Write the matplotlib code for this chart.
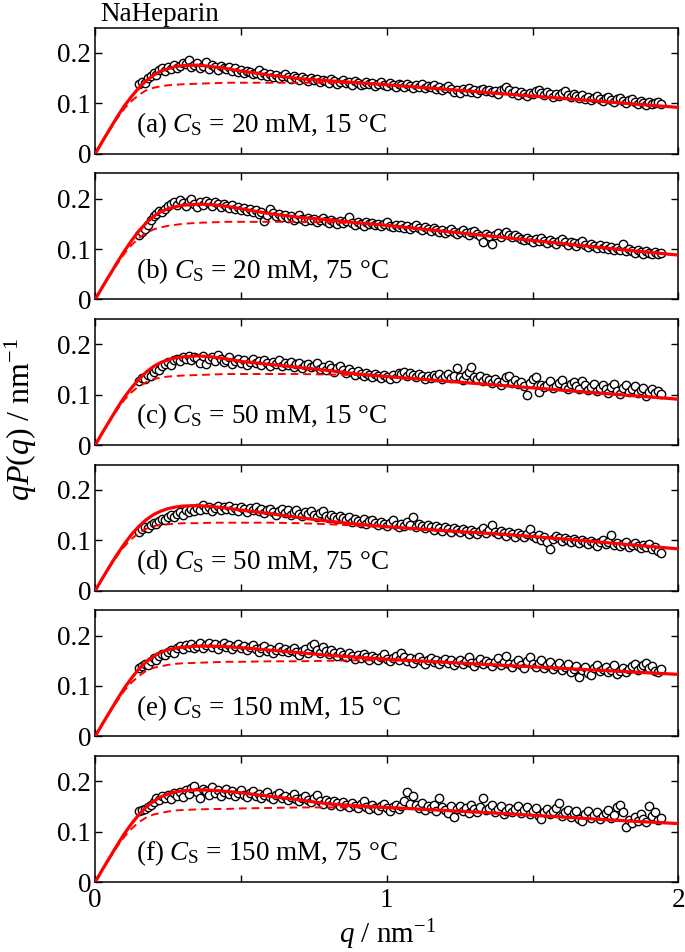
import numpy as np
import matplotlib
matplotlib.use('Agg')
import matplotlib.pyplot as plt

# Fonte tipo Times
plt.rcParams['font.family'] = 'Liberation Serif'
plt.rcParams['mathtext.fontset'] = 'custom'
plt.rcParams['mathtext.rm'] = 'Liberation Serif'
plt.rcParams['mathtext.it'] = 'Liberation Serif:italic'

# grade de q dos dados medidos (nm^-1)
q_data = np.round(np.arange(0.15, 1.945, 0.01), 2)

data_a = [0.138, 0.143, 0.140, 0.150, 0.155, 0.160, 0.157, 0.166, 0.170, 0.165,
          0.172, 0.168, 0.176, 0.170, 0.174, 0.181, 0.178, 0.186, 0.173, 0.177,
          0.180, 0.171, 0.175, 0.183, 0.169, 0.176, 0.172, 0.167, 0.174, 0.170,
          0.168, 0.173, 0.165, 0.170, 0.163, 0.167, 0.160, 0.165, 0.162, 0.158,
          0.161, 0.166, 0.157, 0.160, 0.155, 0.158, 0.153, 0.156, 0.150, 0.154,
          0.158, 0.152, 0.149, 0.155, 0.151, 0.147, 0.153, 0.148, 0.144, 0.150,
          0.146, 0.149, 0.143, 0.147, 0.145, 0.141, 0.148, 0.144, 0.139, 0.143,
          0.146, 0.140, 0.142, 0.137, 0.144, 0.141, 0.136, 0.139, 0.143, 0.138,
          0.140, 0.135, 0.139, 0.142, 0.136, 0.134, 0.140, 0.137, 0.133, 0.138,
          0.136, 0.132, 0.138, 0.134, 0.130, 0.137, 0.133, 0.139, 0.131, 0.135,
          0.132, 0.136, 0.129, 0.133, 0.127, 0.131, 0.135, 0.128, 0.122, 0.126,
          0.121, 0.129, 0.125, 0.131, 0.123, 0.127, 0.120, 0.126, 0.129, 0.124,
          0.127, 0.122, 0.125, 0.119, 0.126, 0.129, 0.133, 0.127, 0.120, 0.124,
          0.117, 0.122, 0.119, 0.115, 0.121, 0.118, 0.124, 0.127, 0.120, 0.116,
          0.122, 0.118, 0.113, 0.119, 0.115, 0.121, 0.124, 0.117, 0.112, 0.118,
          0.114, 0.110, 0.116, 0.108, 0.113, 0.106, 0.111, 0.115, 0.109, 0.104,
          0.110, 0.113, 0.106, 0.102, 0.108, 0.111, 0.105, 0.100, 0.106, 0.109,
          0.103, 0.099, 0.105, 0.101, 0.097, 0.102, 0.098, 0.100, 0.103, 0.099]
data_b = [0.128, 0.133, 0.140, 0.147, 0.158, 0.166, 0.170, 0.176, 0.173, 0.180,
          0.185, 0.190, 0.194, 0.187, 0.198, 0.192, 0.186, 0.195, 0.199, 0.190,
          0.184, 0.194, 0.188, 0.196, 0.191, 0.185, 0.193, 0.189, 0.183, 0.190,
          0.186, 0.181, 0.188, 0.179, 0.184, 0.177, 0.182, 0.175, 0.180, 0.173,
          0.177, 0.170, 0.174, 0.155, 0.168, 0.180, 0.172, 0.166, 0.170, 0.163,
          0.167, 0.161, 0.165, 0.158, 0.162, 0.167, 0.159, 0.156, 0.162, 0.157,
          0.160, 0.154, 0.158, 0.162, 0.155, 0.151, 0.157, 0.153, 0.149, 0.155,
          0.151, 0.156, 0.163, 0.152, 0.148, 0.154, 0.150, 0.146, 0.153, 0.149,
          0.152, 0.147, 0.150, 0.145, 0.149, 0.153, 0.146, 0.143, 0.148, 0.144,
          0.147, 0.141, 0.145, 0.139, 0.144, 0.148, 0.142, 0.138, 0.143, 0.140,
          0.136, 0.141, 0.138, 0.133, 0.137, 0.131, 0.135, 0.139, 0.134, 0.130,
          0.134, 0.138, 0.132, 0.128, 0.133, 0.136, 0.129, 0.125, 0.113, 0.130,
          0.126, 0.110, 0.128, 0.132, 0.124, 0.129, 0.133, 0.127, 0.123, 0.128,
          0.124, 0.120, 0.117, 0.122, 0.118, 0.113, 0.119, 0.115, 0.121, 0.116,
          0.112, 0.118, 0.114, 0.110, 0.116, 0.119, 0.113, 0.109, 0.114, 0.111,
          0.107, 0.112, 0.115, 0.109, 0.104, 0.110, 0.106, 0.102, 0.108, 0.103,
          0.106, 0.100, 0.104, 0.098, 0.103, 0.099, 0.110, 0.096, 0.101, 0.097,
          0.093, 0.098, 0.095, 0.091, 0.096, 0.092, 0.090, 0.094, 0.091, 0.093]
data_c = [0.128, 0.134, 0.131, 0.140, 0.137, 0.146, 0.150, 0.148, 0.157, 0.160,
          0.164, 0.158, 0.168, 0.171, 0.166, 0.174, 0.170, 0.177, 0.168, 0.175,
          0.172, 0.163, 0.176, 0.160, 0.170, 0.174, 0.167, 0.178, 0.171, 0.165,
          0.169, 0.174, 0.160, 0.167, 0.171, 0.163, 0.168, 0.158, 0.165, 0.170,
          0.162, 0.166, 0.159, 0.169, 0.163, 0.157, 0.165, 0.160, 0.168, 0.156,
          0.162, 0.158, 0.165, 0.155, 0.160, 0.163, 0.152, 0.158, 0.161, 0.154,
          0.157, 0.162, 0.151, 0.155, 0.148, 0.158, 0.153, 0.146, 0.152, 0.156,
          0.148, 0.143, 0.150, 0.145, 0.139, 0.147, 0.141, 0.137, 0.144, 0.140,
          0.136, 0.142, 0.138, 0.133, 0.140, 0.135, 0.131, 0.139, 0.134, 0.143,
          0.141, 0.146, 0.137, 0.143, 0.139, 0.135, 0.141, 0.137, 0.132, 0.138,
          0.134, 0.140, 0.136, 0.142, 0.131, 0.137, 0.141, 0.133, 0.138, 0.153,
          0.135, 0.130, 0.139, 0.146, 0.154, 0.136, 0.131, 0.137, 0.127, 0.133,
          0.129, 0.123, 0.131, 0.126, 0.120, 0.128, 0.135, 0.138, 0.124, 0.129,
          0.121, 0.126, 0.117, 0.100, 0.124, 0.131, 0.135, 0.105, 0.119, 0.115,
          0.120, 0.127, 0.113, 0.118, 0.123, 0.130, 0.116, 0.111, 0.121, 0.125,
          0.117, 0.112, 0.128, 0.119, 0.109, 0.115, 0.122, 0.107, 0.113, 0.120,
          0.111, 0.104, 0.116, 0.122, 0.108, 0.101, 0.114, 0.119, 0.106, 0.111,
          0.117, 0.103, 0.109, 0.114, 0.098, 0.106, 0.111, 0.104, 0.108, 0.102]
data_d = [0.117, 0.122, 0.126, 0.124, 0.131, 0.135, 0.133, 0.139, 0.143, 0.141,
          0.147, 0.150, 0.146, 0.153, 0.157, 0.151, 0.160, 0.156, 0.163, 0.158,
          0.165, 0.160, 0.170, 0.162, 0.167, 0.159, 0.165, 0.168, 0.161, 0.166,
          0.163, 0.169, 0.160, 0.165, 0.158, 0.167, 0.162, 0.156, 0.164, 0.160,
          0.166, 0.158, 0.162, 0.154, 0.160, 0.163, 0.157, 0.151, 0.159, 0.162,
          0.155, 0.160, 0.150, 0.157, 0.161, 0.153, 0.148, 0.156, 0.152, 0.158,
          0.150, 0.146, 0.154, 0.159, 0.149, 0.144, 0.151, 0.147, 0.142, 0.149,
          0.145, 0.140, 0.147, 0.137, 0.143, 0.139, 0.135, 0.142, 0.133, 0.138,
          0.141, 0.134, 0.130, 0.137, 0.132, 0.128, 0.135, 0.140, 0.131, 0.127,
          0.133, 0.129, 0.136, 0.131, 0.146, 0.127, 0.133, 0.129, 0.124, 0.130,
          0.126, 0.121, 0.128, 0.124, 0.119, 0.126, 0.122, 0.117, 0.124, 0.120,
          0.116, 0.123, 0.119, 0.113, 0.121, 0.117, 0.112, 0.118, 0.125, 0.115,
          0.120, 0.131, 0.116, 0.112, 0.118, 0.114, 0.109, 0.116, 0.112, 0.107,
          0.114, 0.110, 0.106, 0.112, 0.122, 0.108, 0.104, 0.111, 0.100, 0.106,
          0.096, 0.082, 0.102, 0.108, 0.104, 0.099, 0.105, 0.101, 0.096, 0.103,
          0.099, 0.094, 0.101, 0.097, 0.092, 0.098, 0.094, 0.089, 0.096, 0.101,
          0.092, 0.097, 0.110, 0.090, 0.095, 0.088, 0.093, 0.097, 0.086, 0.091,
          0.095, 0.088, 0.084, 0.090, 0.086, 0.092, 0.083, 0.087, 0.079, 0.075]
data_e = [0.136, 0.139, 0.143, 0.141, 0.150, 0.155, 0.152, 0.160, 0.164, 0.161,
          0.168, 0.172, 0.166, 0.175, 0.179, 0.173, 0.181, 0.177, 0.184, 0.175,
          0.180, 0.185, 0.176, 0.182, 0.186, 0.178, 0.183, 0.174, 0.181, 0.185,
          0.177, 0.182, 0.173, 0.179, 0.184, 0.175, 0.180, 0.171, 0.177, 0.182,
          0.174, 0.168, 0.176, 0.179, 0.170, 0.174, 0.166, 0.172, 0.177, 0.169,
          0.173, 0.167, 0.171, 0.176, 0.168, 0.162, 0.170, 0.174, 0.166, 0.179,
          0.183, 0.171, 0.165, 0.178, 0.169, 0.163, 0.172, 0.166, 0.160, 0.168,
          0.162, 0.157, 0.165, 0.159, 0.154, 0.161, 0.156, 0.163, 0.158, 0.152,
          0.160, 0.155, 0.151, 0.158, 0.163, 0.153, 0.149, 0.156, 0.160, 0.152,
          0.165, 0.157, 0.150, 0.155, 0.146, 0.153, 0.158, 0.149, 0.144, 0.151,
          0.156, 0.147, 0.152, 0.143, 0.149, 0.154, 0.145, 0.151, 0.141, 0.147,
          0.152, 0.144, 0.149, 0.157, 0.146, 0.140, 0.148, 0.153, 0.143, 0.150,
          0.145, 0.139, 0.147, 0.155, 0.142, 0.148, 0.160, 0.144, 0.137, 0.146,
          0.152, 0.141, 0.136, 0.149, 0.158, 0.143, 0.138, 0.145, 0.151, 0.135,
          0.142, 0.148, 0.133, 0.139, 0.145, 0.131, 0.137, 0.144, 0.128, 0.134,
          0.140, 0.118, 0.132, 0.138, 0.126, 0.121, 0.135, 0.141, 0.129, 0.133,
          0.138, 0.127, 0.132, 0.142, 0.124, 0.130, 0.136, 0.128, 0.134, 0.140,
          0.144, 0.131, 0.137, 0.142, 0.146, 0.135, 0.139, 0.130, 0.127, 0.133]
data_f = [0.140, 0.142, 0.145, 0.148, 0.152, 0.158, 0.166, 0.162, 0.170, 0.167,
          0.173, 0.165, 0.176, 0.171, 0.179, 0.168, 0.182, 0.175, 0.186, 0.190,
          0.178, 0.167, 0.185, 0.180, 0.172, 0.188, 0.176, 0.183, 0.170, 0.179,
          0.184, 0.175, 0.180, 0.171, 0.177, 0.182, 0.173, 0.168, 0.176, 0.180,
          0.171, 0.175, 0.166, 0.173, 0.178, 0.169, 0.164, 0.172, 0.176, 0.167,
          0.171, 0.163, 0.168, 0.174, 0.165, 0.160, 0.167, 0.171, 0.162, 0.158,
          0.166, 0.172, 0.160, 0.155, 0.163, 0.158, 0.153, 0.161, 0.156, 0.150,
          0.158, 0.153, 0.148, 0.156, 0.151, 0.147, 0.155, 0.160, 0.149, 0.144,
          0.152, 0.147, 0.143, 0.150, 0.155, 0.146, 0.141, 0.149, 0.153, 0.145,
          0.150, 0.160, 0.178, 0.155, 0.171, 0.152, 0.147, 0.156, 0.143, 0.150,
          0.146, 0.153, 0.141, 0.166, 0.148, 0.143, 0.137, 0.150, 0.129, 0.145,
          0.151, 0.140, 0.146, 0.137, 0.153, 0.144, 0.139, 0.148, 0.166, 0.142,
          0.147, 0.152, 0.138, 0.144, 0.150, 0.135, 0.141, 0.147, 0.139, 0.145,
          0.150, 0.137, 0.143, 0.148, 0.134, 0.140, 0.146, 0.131, 0.125, 0.139,
          0.144, 0.135, 0.141, 0.147, 0.156, 0.132, 0.138, 0.143, 0.129, 0.136,
          0.141, 0.126, 0.122, 0.135, 0.140, 0.128, 0.133, 0.138, 0.125, 0.131,
          0.136, 0.143, 0.127, 0.133, 0.149, 0.152, 0.138, 0.109, 0.124, 0.118,
          0.129, 0.121, 0.135, 0.126, 0.120, 0.151, 0.131, 0.138, 0.123, 0.128]

# curvas teoricas (linha cheia = ajuste, tracejada = sem interacao)
q_fit = [0, 0.025, 0.05, 0.075, 0.1, 0.125, 0.15, 0.175, 0.2, 0.225, 0.25, 0.275, 0.3,
         0.35, 0.4, 0.45, 0.5, 0.6, 0.7, 0.8, 0.9, 1.0, 1.2, 1.4, 1.6, 1.8, 2.0]
fit_a = [0, .025, .049, .073, .095, .114, .131, .145, .156, .164, .169, .173, .175,
         .176, .173, .169, .164, .156, .149, .145, .141, .137, .128, .119, .110, .101, .092]
dash_a = [0, .025, .048, .070, .090, .105, .117, .126, .131, .134, .136, .137, .138,
          .139, .140, .141, .141, .141, .141, .141, .140, .137, .128, .119, .110, .101, .092]
fit_b = [0, .025, .049, .073, .096, .117, .136, .152, .165, .174, .180, .184, .187,
         .189, .188, .185, .180, .170, .163, .158, .152, .147, .135, .123, .111, .099, .088]
dash_b = [0, .025, .048, .070, .091, .108, .122, .132, .139, .143, .146, .148, .150,
          .152, .153, .154, .154, .154, .154, .153, .151, .147, .135, .123, .111, .099, .088]
fit_c = [0, .025, .049, .073, .095, .114, .131, .145, .156, .164, .169, .173, .175,
         .177, .175, .171, .166, .160, .154, .148, .141, .136, .127, .118, .109, .100, .091]
dash_c = [0, .025, .048, .070, .090, .105, .117, .125, .131, .134, .136, .137, .138,
          .139, .140, .141, .141, .141, .141, .140, .139, .136, .127, .118, .109, .100, .091]
fit_d = [0, .025, .049, .072, .093, .112, .128, .141, .151, .158, .163, .166, .168,
         .169, .167, .164, .160, .153, .145, .138, .132, .127, .119, .112, .103, .093, .083]
dash_d = [0, .025, .048, .069, .088, .103, .115, .123, .128, .131, .132, .133, .134,
          .134, .135, .135, .135, .135, .134, .132, .129, .126, .119, .112, .103, .093, .083]
fit_e = [0, .025, .049, .073, .096, .116, .134, .148, .159, .167, .172, .175, .177,
         .179, .179, .178, .176, .171, .166, .161, .157, .153, .147, .141, .135, .129, .123]
dash_e = [0, .025, .048, .070, .091, .107, .120, .130, .136, .139, .142, .144, .145,
          .146, .147, .148, .148, .149, .149, .150, .151, .151, .147, .141, .135, .129, .123]
fit_f = [0, .025, .049, .073, .096, .116, .134, .149, .160, .169, .175, .179, .181,
         .183, .182, .180, .177, .170, .163, .155, .151, .148, .142, .136, .129, .122, .116]
dash_f = [0, .025, .048, .070, .090, .106, .119, .128, .134, .137, .140, .142, .143,
          .144, .145, .145, .146, .147, .148, .148, .148, .147, .142, .136, .129, .122, .116]

rotulos = ['(a) $C_\\mathrm{S}$ = 20 mM, 15 °C',
           '(b) $C_\\mathrm{S}$ = 20 mM, 75 °C',
           '(c) $C_\\mathrm{S}$ = 50 mM, 15 °C',
           '(d) $C_\\mathrm{S}$ = 50 mM, 75 °C',
           '(e) $C_\\mathrm{S}$ = 150 mM, 15 °C',
           '(f) $C_\\mathrm{S}$ = 150 mM, 75 °C']
dados = [data_a, data_b, data_c, data_d, data_e, data_f]
ajustes = [fit_a, fit_b, fit_c, fit_d, fit_e, fit_f]
tracejados = [dash_a, dash_b, dash_c, dash_d, dash_e, dash_f]

fig, axs = plt.subplots(6, 1, figsize=(6.85, 9.52), dpi=100, sharex=True)
fig.subplots_adjust(left=0.139, right=0.9905, top=0.9708, bottom=0.0735, hspace=0.156)

for ax, y, yf, yd, rot in zip(axs, dados, ajustes, tracejados, rotulos):
    ax.plot(q_data, y, 'o', ms=6, mfc='white', mec='black', mew=1.0, zorder=2)
    ax.plot(q_fit, yf, '-', color='red', lw=2.3, zorder=3)
    ax.plot(q_fit, yd, '--', color='red', lw=1.4, dashes=(4, 2.5), zorder=3)
    ax.set_xlim(0, 2)
    ax.set_ylim(0, 0.25)
    ax.set_yticks([0, 0.1, 0.2])
    ax.set_yticklabels(['0', '0.1', '0.2'])
    ax.set_xticks([0, 1, 2])
    ax.set_xticks([0.5, 1.5], minor=True)
    ax.tick_params(which='both', direction='in', top=True, right=True,
                   length=5, width=1, labelsize=19.5)
    ax.tick_params(axis='x', pad=4)
    ax.tick_params(axis='y', pad=3)
    for s in ax.spines.values():
        s.set_linewidth(1.1)
    ax.text(0.14, 0.043, rot, fontsize=19.5, va='baseline', ha='left')

axs[-1].set_xticklabels(['0', '1', '2'])

fig.text(0.146, 0.978, 'NaHeparin', fontsize=19.5, va='baseline', ha='left')
fig.text(0.03, 0.56, '$qP(q)$ / nm$^{-1}$', fontsize=23, rotation=90,
         va='center', ha='center')
fig.text(0.566, 0.0095, '$q$ / nm$^{-1}$', fontsize=21, va='baseline', ha='center')

plt.savefig('out.png', dpi=100)
